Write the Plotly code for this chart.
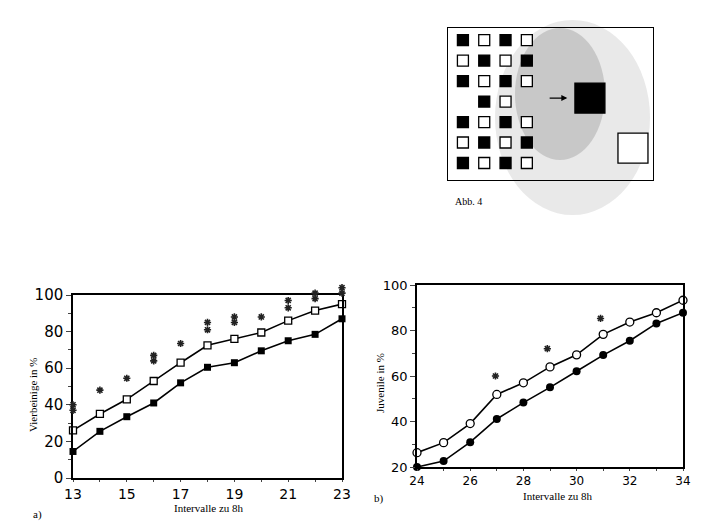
import plotly.graph_objects as go

# ------------------------
# Data, chart a) Vierbeinige
# ------------------------
a_x = [13, 14, 15, 16, 17, 18, 19, 20, 21, 22, 23]
a_open = [26, 35, 43, 53, 63, 72.5, 76, 79.5, 86, 91.5, 95]
a_filled = [14.5, 25.5, 33.5, 41, 52, 60.5, 63, 69.5, 75, 78.5, 87]
# significance stars (one entry per star)
a_star_x = [13, 13, 14, 15, 16, 16, 17, 18, 18, 19, 19, 20, 21, 21, 22, 22, 23, 23]
a_star_y = [40, 37, 48, 54.5, 67, 64, 73.5, 85, 81, 88, 85, 88, 97, 93, 101, 98, 104, 101]
a_ticks_x = [13, 15, 17, 19, 21, 23]

# ------------------------
# Data, chart b) Juvenile
# ------------------------
b_x = [24, 25, 26, 27, 28, 29, 30, 31, 32, 33, 34]
b_open = [26.3, 30.7, 39.1, 51.9, 57, 64, 69.3, 78.3, 83.7, 87.8, 93.3]
b_filled = [20, 22.6, 30.9, 41.1, 48.3, 55, 62.1, 69.2, 75.5, 83.1, 87.8]
b_star_x = [26.95, 28.9, 30.9]
b_star_y = [60, 72, 85.3]
b_ticks_x = [24, 26, 28, 30, 32, 34]

# ------------------------
# Data, Abb. 4 (grid of squares: row, column, filled?)
# ------------------------
grid_row = [0, 0, 0, 0, 1, 1, 1, 1, 2, 2, 2, 2, 3, 3,
            4, 4, 4, 4, 5, 5, 5, 5, 6, 6, 6, 6]
grid_col = [0, 1, 2, 3, 0, 1, 2, 3, 0, 1, 2, 3, 1, 2,
            0, 1, 2, 3, 0, 1, 2, 3, 0, 1, 2, 3]
grid_fill = [1, 0, 1, 0, 0, 1, 0, 1, 1, 0, 1, 0, 1, 0,
             1, 0, 1, 0, 0, 1, 0, 1, 1, 0, 1, 0]
big_row = [2.83, 5.27]
big_col = [5.96, 7.98]
big_fill = [1, 0]

W, H = 726, 529
OFF = 8  # the page body margin shifts the figure by this much


def px(x):
    return (x - OFF) / W


def py(y):
    return 1 - (y - OFF) / H


fig = go.Figure()

# speckled background of the scanned picture
fig.add_shape(type="circle", xref="paper", yref="paper",
              x0=px(495), x1=px(650), y0=py(215), y1=py(20),
              fillcolor="rgba(120,120,120,0.16)", line=dict(width=0), layer="below")
fig.add_shape(type="circle", xref="paper", yref="paper",
              x0=px(515), x1=px(605), y0=py(160), y1=py(28),
              fillcolor="rgba(70,70,70,0.2)", line=dict(width=0), layer="below")

# chart a
fig.add_trace(go.Scatter(x=a_x, y=a_open, mode="lines+markers",
                         line=dict(color="black", width=1.6),
                         marker=dict(symbol="square", size=7, color="white",
                                     line=dict(color="black", width=1.3)),
                         xaxis="x", yaxis="y", cliponaxis=False))
fig.add_trace(go.Scatter(x=a_x, y=a_filled, mode="lines+markers",
                         line=dict(color="black", width=1.6),
                         marker=dict(symbol="square", size=7, color="black"),
                         xaxis="x", yaxis="y", cliponaxis=False))
# stars drawn on a taller twin axis so those above 100 stay visible
fig.add_trace(go.Scatter(x=a_star_x, y=a_star_y, mode="markers",
                         marker=dict(symbol="asterisk-open", size=6, color="#222",
                                     line=dict(color="#222", width=1.6)),
                         xaxis="x4", yaxis="y4", cliponaxis=False))

# chart b
fig.add_trace(go.Scatter(x=b_x, y=b_open, mode="lines+markers",
                         line=dict(color="black", width=1.6),
                         marker=dict(symbol="circle", size=8, color="white",
                                     line=dict(color="black", width=1.3)),
                         xaxis="x2", yaxis="y2", cliponaxis=False))
fig.add_trace(go.Scatter(x=b_x, y=b_filled, mode="lines+markers",
                         line=dict(color="black", width=1.6),
                         marker=dict(symbol="circle", size=8, color="black"),
                         xaxis="x2", yaxis="y2", cliponaxis=False))
fig.add_trace(go.Scatter(x=b_star_x, y=b_star_y, mode="markers",
                         marker=dict(symbol="asterisk-open", size=6, color="#222",
                                     line=dict(color="#222", width=1.6)),
                         xaxis="x2", yaxis="y2", cliponaxis=False))

# Abb. 4 squares
fig.add_trace(go.Scatter(x=grid_col, y=grid_row, mode="markers",
                         marker=dict(symbol="square", size=11,
                                     color=["black" if f else "white" for f in grid_fill],
                                     line=dict(color="black", width=1.3)),
                         xaxis="x3", yaxis="y3", cliponaxis=False))
fig.add_trace(go.Scatter(x=big_col, y=big_row, mode="markers",
                         marker=dict(symbol="square", size=30,
                                     color=["black" if f else "white" for f in big_fill],
                                     line=dict(color="black", width=1.3)),
                         xaxis="x3", yaxis="y3", cliponaxis=False))

tick_font_a = dict(family="DejaVu Sans", size=15, color="black")
tick_font_ax = dict(family="DejaVu Sans", size=14, color="black")
tick_font_b = dict(family="DejaVu Sans", size=13, color="black")
tick_font_bx = dict(family="DejaVu Sans", size=12, color="black")
title_font = dict(family="Liberation Serif", size=11, color="black")

hidden = dict(showline=False, showticklabels=False, ticks="", showgrid=False,
              zeroline=False, automargin=False)
boxed = dict(showline=True, linecolor="black", linewidth=1.5, mirror=True,
             showgrid=False, zeroline=False, automargin=False, ticks="outside")


def label(text, x, y, angle=0, anchor="center", font=title_font):
    return dict(text=text, x=px(x), y=py(y), xref="paper", yref="paper",
                showarrow=False, textangle=angle, xanchor=anchor,
                yanchor="middle", font=font)


fig.update_layout(
    width=W, height=H,
    margin=dict(l=0, r=0, t=0, b=0, autoexpand=False),
    paper_bgcolor="white", plot_bgcolor="rgba(0,0,0,0)",
    showlegend=False,
    xaxis=dict(domain=[px(73), px(342)], range=[13, 23], anchor="y",
               tickvals=a_ticks_x, ticklen=2, tickfont=tick_font_ax,
               minor=dict(dtick=1, ticks="outside", ticklen=2), **boxed),
    yaxis=dict(domain=[py(478), py(295)], range=[0, 100], anchor="x",
               dtick=20, ticklen=5, tickfont=tick_font_a,
               minor=dict(dtick=10, ticks="outside", ticklen=3), **boxed),
    xaxis4=dict(domain=[px(73), px(342)], range=[13, 23], anchor="y4", **hidden),
    yaxis4=dict(domain=[py(478), py(262)], range=[0, 100 * (478 - 262) / (478 - 295)],
                anchor="x4", **hidden),
    xaxis2=dict(domain=[px(417), px(683)], range=[24, 34], anchor="y2",
                tickvals=b_ticks_x, ticklen=2, tickfont=tick_font_bx,
                minor=dict(dtick=1, ticks="outside", ticklen=2), **boxed),
    yaxis2=dict(domain=[py(467), py(285)], range=[20, 100], anchor="x2",
                dtick=20, ticklen=5, tickfont=tick_font_b,
                minor=dict(dtick=10, ticks="outside", ticklen=3), **boxed),
    xaxis3=dict(domain=[px(448), px(653)], range=[-0.7, 8.92], anchor="y3",
                showline=True, linecolor="black", linewidth=1.2, mirror=True,
                automargin=False,
                showticklabels=False, ticks="", showgrid=False, zeroline=False),
    yaxis3=dict(domain=[py(180), py(28)], range=[6.83, -0.59], anchor="x3",
                showline=True, linecolor="black", linewidth=1.2, mirror=True,
                automargin=False,
                showticklabels=False, ticks="", showgrid=False, zeroline=False),
    annotations=[
        label("Vierbeinige in %", 33, 395, angle=-90),
        label("Intervalle zu 8h", 209, 508),
        label("Juvenile in %", 380, 383, angle=-90),
        label("Intervalle zu 8h", 558, 496),
        label("a)", 31, 514, anchor="left"),
        label("b)", 372, 498, anchor="left"),
        label("Abb. 4", 453, 202, anchor="left",
              font=dict(family="Liberation Serif", size=10, color="black")),
        dict(text="", x=4.9, y=2.83, ax=4.0, ay=2.83, xref="x3", yref="y3",
             axref="x3", ayref="y3", showarrow=True, arrowhead=2, arrowwidth=1.2,
             arrowcolor="black"),
    ],
)

fig.write_html("out.html")
